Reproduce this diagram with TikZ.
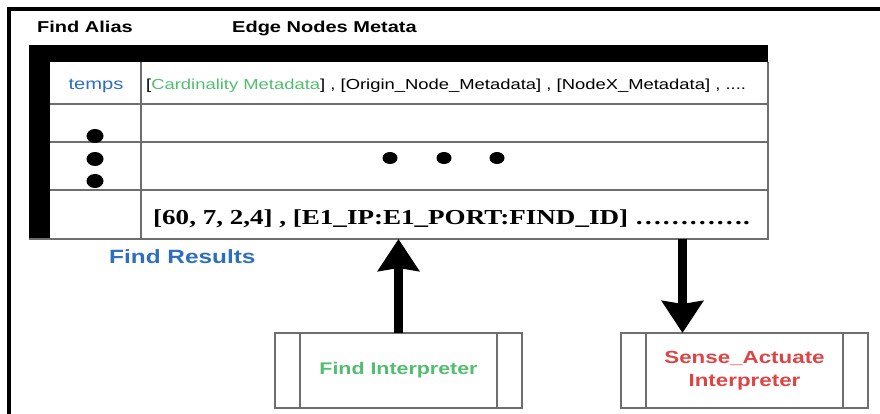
\documentclass[tikz,border=0pt]{standalone}
\usepackage{fontspec}
\setmainfont{Liberation Sans}
% widened faces for all labels
\newfontfamily\wsans[FakeStretch=1.27]{Liberation Sans}
\newfontfamily\wserif[FakeStretch=1.27]{Liberation Serif}
\usetikzlibrary{arrows.meta}
\definecolor{fgreen}{RGB}{80,190,110}
\definecolor{fblue}{RGB}{45,110,190}
\definecolor{fred}{RGB}{222,68,68}
\definecolor{rulegray}{RGB}{110,110,110}
\begin{document}
\begin{tikzpicture}[x=1pt,y=-1pt,
  head/.style={anchor=base west, inner sep=0, font=\wsans\bfseries\fontsize{15.75}{18}\selectfont},
  cellrule/.style={draw=rulegray, line width=1.3pt},
  interp/.style={draw=rulegray, line width=1.4pt, minimum width=247pt, minimum height=75pt,
                 inner sep=0, outer sep=0, align=center},
  bigarrow/.style={line width=9pt, -{Stealth[length=32pt,width=41pt,inset=3pt]}},
  dot/.style={fill=black}
]
\useasboundingbox (0,0) rectangle (880,414);

% page frame
\draw[line width=3.2pt] (880,9) -- (9,9) -- (9,414);

% column headings
\node[head] (alias) at (37,33) {Find Alias};
\node[head] (edge) at (232,33) {Edge Nodes Metata};

% table outline and dark header bars
\node[inner sep=0, outer sep=0, minimum width=739pt, minimum height=194pt] (tbl) at (398.5,142) {};
\fill (29,45) rectangle (768,62);
\fill (29,45) rectangle (50,239);
\draw[cellrule] (768,62) -- (768,239) -- (29,239);
\draw[cellrule] (50,104) -- (768,104);
\draw[cellrule] (50,142) -- (768,142);
\draw[cellrule] (50,190) -- (768,190);
\draw[cellrule] (141,62) -- (141,239);

% first row
\node[anchor=base, inner sep=0, text=fblue, font=\wsans\fontsize{15.9}{18}\selectfont] (temps) at (96,90) {temps};
\node[anchor=base west, inner sep=0, font=\wsans\fontsize{14.5}{17}\selectfont] (meta) at (146,90)
  {[\textcolor{fgreen}{Cardinality Metadata}] , [Origin\_Node\_Metadata] , [NodeX\_Metadata] , ....};

% ellipsis dots
\fill[dot] (95,136) ellipse [x radius=8.5, y radius=7];
\fill[dot] (95,159) ellipse [x radius=8.5, y radius=7];
\fill[dot] (95,181) ellipse [x radius=8.5, y radius=7];
\fill[dot] (390,158) ellipse [x radius=7.5, y radius=6];
\fill[dot] (444,158) ellipse [x radius=7.5, y radius=6];
\fill[dot] (497,158) ellipse [x radius=7.5, y radius=6];

% last row
\node[anchor=base west, inner sep=0, font=\wserif\bfseries\fontsize{21.3}{25}\selectfont] (vals) at (153,224)
  {[60, 7, 2,4] , [E1\_IP:E1\_PORT:FIND\_ID] ………….};

\node[anchor=base west, inner sep=0, text=fblue, font=\wsans\bfseries\fontsize{19.2}{22}\selectfont] (results) at (109,263) {Find Results};

% interpreters
\node[interp, text=fgreen, font=\wsans\bfseries\fontsize{16.85}{20}\selectfont] (fi) at (398.5,370.5) {Find Interpreter};
\node[interp, text=fred, font=\wsans\bfseries\fontsize{17.6}{22.5}\selectfont] (sa) at (744.5,370.5) {Sense\_Actuate\\Interpreter};
\foreach \b in {fi,sa}{
  \draw[rulegray, line width=1.4pt] ([xshift=25pt]\b.north west) -- ([xshift=25pt]\b.south west);
  \draw[rulegray, line width=1.4pt] ([xshift=-25pt]\b.north east) -- ([xshift=-25pt]\b.south east);
}

% data flow
\coordinate (down) at (682.5,239);
\draw[bigarrow] (fi.north) -- (fi.north |- tbl.south);
\draw[bigarrow] (down) -- (down |- sa.north);
\end{tikzpicture}
\end{document}
